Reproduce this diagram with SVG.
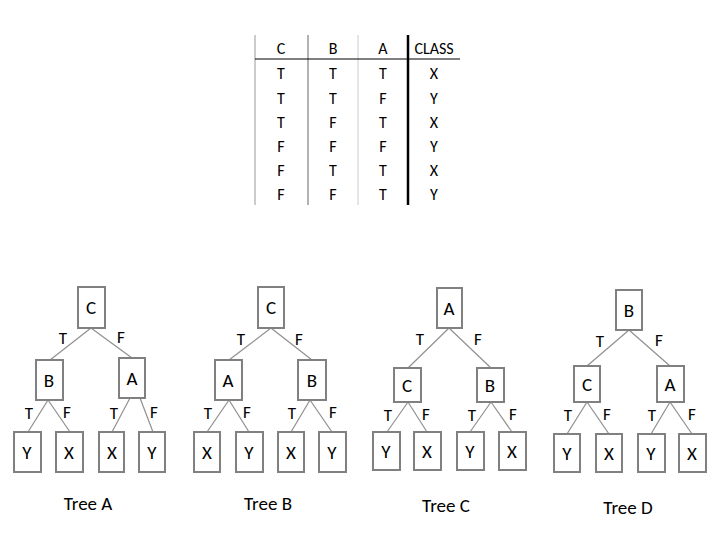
<svg xmlns="http://www.w3.org/2000/svg" width="717" height="538" viewBox="0 0 717 538">
<style>
text{font-family:Calibri,"Liberation Sans","Open Sans",sans-serif;fill:#000;text-anchor:middle}
.t{font-size:16px}
.n rect{fill:#fff;stroke:#808080;stroke-width:2}
.n text{font-size:19px}
.e line{stroke:#909090;stroke-width:1.2}
.l{font-size:17px}
.cap{font-size:19px}
</style>
<rect width="717" height="538" fill="#fff"/>
<g id="table">
<line x1="255" y1="35" x2="255" y2="205" stroke="#999" stroke-width="1"/>
<line x1="308" y1="35" x2="308" y2="205" stroke="#999" stroke-width="1.5"/>
<line x1="358" y1="35" x2="358" y2="205" stroke="#ccc" stroke-width="1"/>
<line x1="408" y1="35" x2="408" y2="205" stroke="#000" stroke-width="2.5"/>
<line x1="255" y1="59" x2="460" y2="59" stroke="#000" stroke-width="1"/>
<g class="t">
<text x="281" y="54">C</text><text x="333" y="54">B</text><text x="383" y="54">A</text><text x="434" y="54">CLASS</text>
<text x="281" y="79">T</text><text x="333" y="79">T</text><text x="383" y="79">T</text><text x="434" y="79">X</text>
<text x="281" y="104">T</text><text x="333" y="104">T</text><text x="383" y="104">F</text><text x="434" y="104">Y</text>
<text x="281" y="128">T</text><text x="333" y="128">F</text><text x="383" y="128">T</text><text x="434" y="128">X</text>
<text x="281" y="152">F</text><text x="333" y="152">F</text><text x="383" y="152">F</text><text x="434" y="152">Y</text>
<text x="281" y="176">F</text><text x="333" y="176">T</text><text x="383" y="176">T</text><text x="434" y="176">X</text>
<text x="281" y="200">F</text><text x="333" y="200">F</text><text x="383" y="200">T</text><text x="434" y="200">Y</text>
</g>
</g>
<g id="connectors" class="e">
<line x1="91" y1="328" x2="50" y2="360"/><line x1="91" y1="328" x2="132" y2="358"/>
<line x1="48" y1="400" x2="28" y2="432"/><line x1="48" y1="400" x2="70" y2="432"/>
<line x1="130" y1="398" x2="112" y2="432"/><line x1="140" y1="398" x2="153" y2="432"/>
<line x1="271" y1="328" x2="229" y2="360"/><line x1="271" y1="328" x2="312" y2="360"/>
<line x1="229" y1="400" x2="207" y2="432"/><line x1="229" y1="400" x2="249" y2="432"/>
<line x1="310" y1="400" x2="291" y2="432"/><line x1="310" y1="400" x2="332" y2="432"/>
<line x1="449" y1="328" x2="408" y2="368"/><line x1="449" y1="328" x2="491" y2="368"/>
<line x1="408" y1="402" x2="387" y2="432"/><line x1="408" y1="402" x2="427" y2="432"/>
<line x1="491" y1="402" x2="470" y2="432"/><line x1="491" y1="402" x2="512" y2="432"/>
<line x1="629" y1="330" x2="587" y2="366"/><line x1="629" y1="330" x2="670" y2="366"/>
<line x1="587" y1="402" x2="567" y2="434"/><line x1="587" y1="402" x2="609" y2="434"/>
<line x1="670" y1="402" x2="651" y2="434"/><line x1="670" y1="402" x2="692" y2="434"/>
</g>
<g id="edge-labels" class="l">
<text x="63" y="344">T</text><text x="121" y="343">F</text>
<text x="29" y="419">T</text><text x="67" y="418">F</text><text x="114" y="419">T</text><text x="154" y="418">F</text>
<text x="241" y="345">T</text><text x="299" y="345">F</text>
<text x="208" y="419">T</text><text x="247" y="418">F</text><text x="292" y="419">T</text><text x="333" y="418">F</text>
<text x="420" y="345">T</text><text x="478" y="345">F</text>
<text x="388" y="421">T</text><text x="426" y="420">F</text><text x="472" y="421">T</text><text x="513" y="420">F</text>
<text x="600" y="347">T</text><text x="659" y="346">F</text>
<text x="568" y="421">T</text><text x="607" y="420">F</text><text x="652" y="421">T</text><text x="692" y="420">F</text>
</g>
<g id="treeA" class="n">
<rect x="78" y="287" width="27" height="41"/><text x="91" y="314">C</text>
<rect x="36" y="360" width="27" height="40"/><text x="49" y="387">B</text>
<rect x="119" y="358" width="26" height="40"/><text x="132" y="385">A</text>
<rect x="14" y="432" width="27" height="40"/><text x="27" y="459">Y</text>
<rect x="56" y="432" width="27" height="40"/><text x="69" y="459">X</text>
<rect x="99" y="432" width="25" height="40"/><text x="112" y="459">X</text>
<rect x="139" y="432" width="26" height="40"/><text x="152" y="459">Y</text>
</g>
<g id="treeB" class="n">
<rect x="258" y="287" width="26" height="41"/><text x="271" y="314">C</text>
<rect x="215" y="360" width="27" height="40"/><text x="228" y="387">A</text>
<rect x="298" y="360" width="28" height="40"/><text x="312" y="387">B</text>
<rect x="194" y="432" width="26" height="40"/><text x="207" y="459">X</text>
<rect x="236" y="432" width="27" height="40"/><text x="249" y="459">Y</text>
<rect x="278" y="432" width="26" height="40"/><text x="291" y="459">X</text>
<rect x="319" y="432" width="27" height="40"/><text x="332" y="459">Y</text>
</g>
<g id="treeC" class="n">
<rect x="437" y="288" width="25" height="40"/><text x="449" y="315">A</text>
<rect x="394" y="368" width="27" height="34"/><text x="407" y="392">C</text>
<rect x="477" y="368" width="27" height="34"/><text x="490" y="392">B</text>
<rect x="373" y="432" width="27" height="38"/><text x="386" y="458">Y</text>
<rect x="414" y="432" width="27" height="38"/><text x="427" y="458">X</text>
<rect x="457" y="432" width="27" height="38"/><text x="470" y="458">Y</text>
<rect x="499" y="432" width="27" height="38"/><text x="512" y="458">X</text>
</g>
<g id="treeD" class="n">
<rect x="616" y="290" width="26" height="40"/><text x="629" y="317">B</text>
<rect x="574" y="366" width="26" height="36"/><text x="587" y="391">C</text>
<rect x="657" y="366" width="27" height="36"/><text x="670" y="391">A</text>
<rect x="554" y="434" width="26" height="38"/><text x="567" y="460">Y</text>
<rect x="596" y="434" width="26" height="38"/><text x="609" y="460">X</text>
<rect x="638" y="434" width="27" height="38"/><text x="651" y="460">Y</text>
<rect x="679" y="434" width="27" height="38"/><text x="692" y="460">X</text>
</g>
<g id="captions" class="cap">
<text x="88" y="510">Tree A</text><text x="268" y="510">Tree B</text>
<text x="446" y="512">Tree C</text><text x="628" y="514">Tree D</text>
</g>
</svg>
